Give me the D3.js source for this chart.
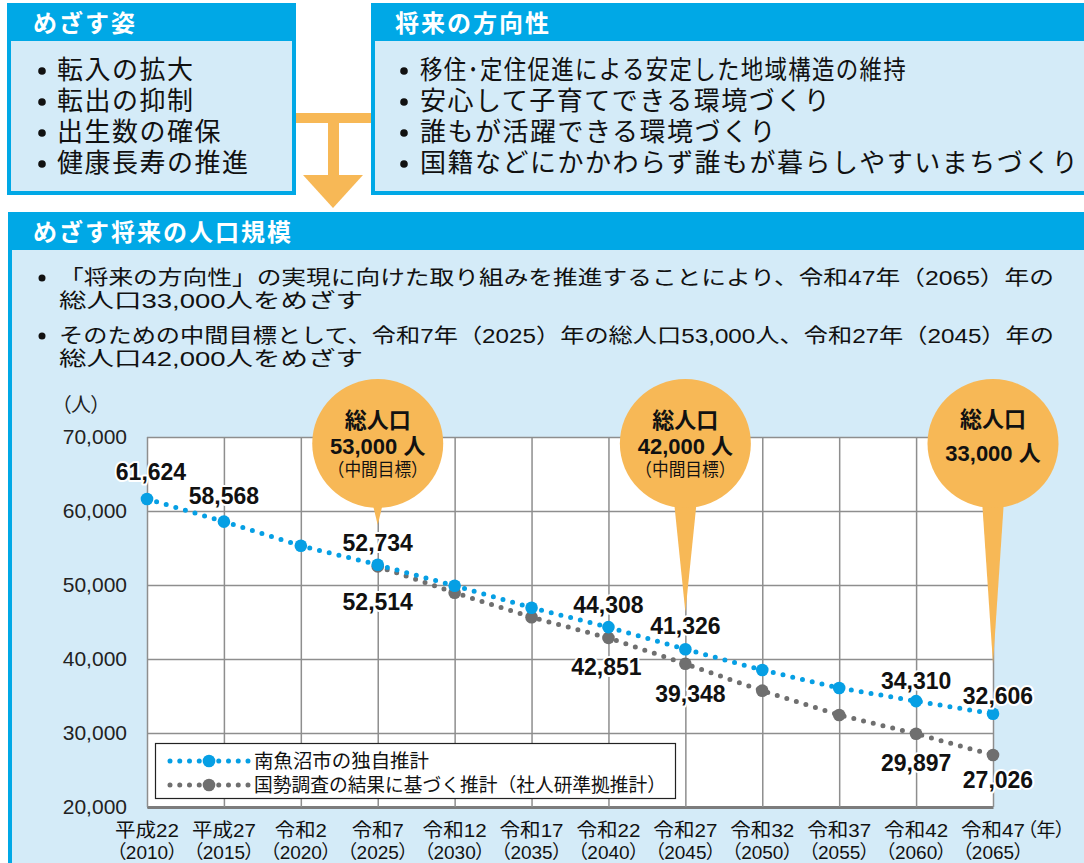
<!DOCTYPE html>
<html>
<head>
<meta charset="utf-8">
<script src="https://cdn.jsdelivr.net/npm/d3@7"></script>
<style>
  body { margin: 0; background: #fff; }
  svg { display: block; }
  text { font-family: "Liberation Sans", "Noto Sans CJK JP", sans-serif; }
</style>
</head>
<body>
<div id="chart"></div>
<script>
// ---- data ----
const years = [2010, 2015, 2020, 2025, 2030, 2035, 2040, 2045, 2050, 2055, 2060, 2065];
const eraLabels = ["平成22", "平成27", "令和2", "令和7", "令和12", "令和17", "令和22", "令和27", "令和32", "令和37", "令和42", "令和47"];
const ownEstimate = [61624, 58568, 55300, 52734, 49900, 46930, 44308, 41326, 38510, 36080, 34310, 32606];
const ipssEstimate = [null, null, null, 52514, 48960, 45640, 42851, 39348, 35720, 32430, 29897, 27026];
const yTicks = [20000, 30000, 40000, 50000, 60000, 70000];
const seriesNames = ["南魚沼市の独自推計", "国勢調査の結果に基づく推計（社人研準拠推計）"];
const ownLabelled = [2010, 2015, 2025, 2040, 2045, 2060, 2065];
const ipssLabelled = [2025, 2040, 2045, 2060, 2065];
const goalYears = [2025, 2045, 2065];
const goalValues = ["53,000", "42,000", "33,000"];
const goalNotes = ["（中間目標）", "（中間目標）", ""];
const aimItems = ["転入の拡大", "転出の抑制", "出生数の確保", "健康長寿の推進"];
const directionItems = [
  "移住･定住促進による安定した地域構造の維持",
  "安心して子育てできる環境づくり",
  "誰もが活躍できる環境づくり",
  "国籍などにかかわらず誰もが暮らしやすいまちづくり"
];
const targetLines = [
  "「将来の方向性」の実現に向けた取り組みを推進することにより、令和47年（2065）年の",
  "総人口33,000人をめざす",
  "そのための中間目標として、令和7年（2025）年の総人口53,000人、令和27年（2045）年の",
  "総人口42,000人をめざす"
];

const W = 1084, H = 863;
const BLUE = "#00a8e6", LIGHT = "#d4ebf8", ORANGE = "#f7b856";
const C_OWN = "#069fe4", C_IPSS = "#6f6f6f";

const svg = d3.select("#chart").append("svg")
  .attr("width", W).attr("height", H)
  .attr("viewBox", [0, 0, W, H]);

// panels with a blue title strip
function panel(x, y, w, h, title, titleX, titleY) {
  svg.append("rect")
    .attr("x", x + 2).attr("y", y + 2).attr("width", w - 4).attr("height", h - 4)
    .attr("fill", LIGHT).attr("stroke", BLUE).attr("stroke-width", 4);
  svg.append("rect")
    .attr("x", x).attr("y", y).attr("width", w).attr("height", 38)
    .attr("fill", BLUE);
  svg.append("text")
    .attr("x", titleX).attr("y", titleY)
    .attr("dominant-baseline", "central")
    .attr("fill", "#fff").attr("font-weight", 700)
    .attr("font-size", 24).attr("letter-spacing", 2)
    .text(title);
}

panel(7, 3, 289, 192, "めざす姿", 33, 23);
panel(371, 3, 730, 192, "将来の方向性", 395, 23);
panel(8, 212, 1090, 670, "めざす将来の人口規模", 33, 232);

// bullet lists in top panels
function bullets(items, bx, tx, y0, step, fitFirst) {
  const g = svg.append("g");
  items.forEach((t, i) => {
    const cy = y0 + i * step;
    g.append("circle").attr("cx", bx).attr("cy", cy + 1).attr("r", 3.8).attr("fill", "#111");
    const tt = g.append("text")
      .attr("x", tx).attr("y", cy)
      .attr("dominant-baseline", "central")
      .attr("font-size", 26).attr("letter-spacing", 1.5)
      .attr("fill", "#111")
      .text(t);
    if (fitFirst && i === 0) tt.attr("textLength", fitFirst).attr("lengthAdjust", "spacingAndGlyphs");
  });
}
bullets(aimItems, 42, 57, 70, 31);
bullets(directionItems, 404, 420, 70, 31, 487);

// arrow between the panels
svg.append("rect").attr("x", 296).attr("y", 113).attr("width", 75).attr("height", 10).attr("fill", ORANGE);
svg.append("rect").attr("x", 328).attr("y", 122).attr("width", 11).attr("height", 54).attr("fill", ORANGE);
svg.append("path").attr("d", "M303,175 L363,175 L333,208 Z").attr("fill", ORANGE);

// target text
const tg = svg.append("g");
const lineYs = [277, 300, 335, 358];
targetLines.forEach((t, i) => {
  if (i % 2 === 0) tg.append("circle").attr("cx", 42).attr("cy", lineYs[i] + 1).attr("r", 3.5).attr("fill", "#111");
  tg.append("text")
    .attr("x", 59).attr("y", lineYs[i])
    .attr("dominant-baseline", "central")
    .attr("font-size", 20.5).attr("fill", "#111")
    .attr("textLength", i % 2 === 0 ? 995 : 304)
    .attr("lengthAdjust", "spacingAndGlyphs")
    .text(t);
});

// ---- chart ----
const x = d3.scaleLinear().domain([2010, 2065]).range([147, 993]);
const y = d3.scaleLinear().domain([20000, 70000]).range([807, 437]);

svg.append("rect")
  .attr("x", x(2010)).attr("y", y(70000))
  .attr("width", x(2065) - x(2010)).attr("height", y(20000) - y(70000))
  .attr("fill", "#fff");

const gy = svg.append("g")
  .attr("transform", `translate(${x(2010)},0)`)
  .call(d3.axisLeft(y).tickValues(yTicks).tickSize(-(x(2065) - x(2010))).tickPadding(20).tickFormat(d3.format(",")));
gy.select(".domain").remove();
gy.selectAll(".tick line").attr("stroke", "#8e8e8e").attr("stroke-width", 1.5);
gy.selectAll(".tick text")
  .attr("font-family", "Liberation Sans, Arial, sans-serif")
  .attr("font-size", 21).attr("fill", "#222");

const gx = svg.append("g")
  .attr("transform", `translate(0,${y(20000)})`)
  .call(d3.axisBottom(x).tickValues(years).tickSize(-(y(20000) - y(70000))).tickSizeOuter(0).tickFormat(""));
gx.selectAll(".tick line").attr("stroke", "#8e8e8e").attr("stroke-width", 1.5);
gx.select(".domain").attr("stroke", "#7c7c7c").attr("stroke-width", 3);

// x tick labels (era + western year)
const xl = svg.append("g").attr("fill", "#111").attr("font-size", 19).attr("text-anchor", "middle");
years.forEach((yr, i) => {
  xl.append("text").attr("x", x(yr)).attr("y", 830).attr("dominant-baseline", "central")
    .attr("lengthAdjust", "spacingAndGlyphs")
    .attr("textLength", eraLabels[i].length > 3 ? 64 : 52)
    .text(eraLabels[i]);
  xl.append("text").attr("x", x(yr)).attr("y", 852).attr("dominant-baseline", "central")
    .style("font-feature-settings", "'palt'").text(`（${yr}）`);
});
xl.append("text").attr("x", 1027).attr("y", 830).attr("text-anchor", "start")
  .attr("dominant-baseline", "central").style("font-feature-settings", "'palt'").text("（年）");

svg.append("text")
  .attr("x", 61).attr("y", 405).attr("dominant-baseline", "central")
  .attr("font-size", 20).attr("fill", "#222")
  .style("font-feature-settings", "'palt'")
  .text("（人）");

// goal balloons
const bal = svg.append("g");
const tipY = [525, 612, 664];
const neck = [6, 11.5, 11];
goalYears.forEach((yr, i) => {
  const cx = x(yr);
  bal.append("path")
    .attr("d", `M${cx - neck[i]},500 L${cx + neck[i]},500 L${cx},${tipY[i]} Z`)
    .attr("fill", ORANGE);
  bal.append("ellipse")
    .attr("cx", cx).attr("cy", 443.5).attr("rx", 65.5).attr("ry", 64.5)
    .attr("fill", ORANGE);
  const hasNote = goalNotes[i] !== "";
  bal.append("text").attr("x", cx).attr("y", hasNote ? 420 : 419)
    .attr("text-anchor", "middle").attr("dominant-baseline", "central")
    .attr("font-weight", 700).attr("font-size", 22).attr("fill", "#111")
    .text("総人口");
  bal.append("text").attr("x", cx).attr("y", hasNote ? 446 : 453)
    .attr("text-anchor", "middle").attr("dominant-baseline", "central")
    .attr("font-weight", 700).attr("font-size", 22).attr("fill", "#111")
    .text(goalValues[i] + " 人");
  if (hasNote) {
    bal.append("text").attr("x", cx).attr("y", 470)
      .attr("text-anchor", "middle").attr("dominant-baseline", "central")
      .attr("font-size", 18).attr("fill", "#111")
      .attr("textLength", 100).attr("lengthAdjust", "spacingAndGlyphs")
      .text(goalNotes[i]);
  }
});

// series
const ownData = years.map((yr, i) => [yr, ownEstimate[i]]);
const ipssData = years.map((yr, i) => [yr, ipssEstimate[i]]).filter(d => d[1] != null);
const line = d3.line().x(d => x(d[0])).y(d => y(d[1]));

function drawSeries(data, color) {
  const g = svg.append("g");
  g.append("path")
    .attr("d", line(data))
    .attr("fill", "none").attr("stroke", color)
    .attr("stroke-width", 5).attr("stroke-linecap", "round")
    .attr("stroke-dasharray", "0 10");
  g.selectAll("circle").data(data).join("circle")
    .attr("cx", d => x(d[0])).attr("cy", d => y(d[1]))
    .attr("r", 6.3).attr("fill", color);
}
drawSeries(ipssData, C_IPSS);
drawSeries(ownData, C_OWN);

// value labels
const ownOffset = { 2010: [4, -27], 2015: [0, -26], 2025: [0, -22], 2040: [0, -22], 2045: [0, -23], 2060: [0, -20], 2065: [5, -18] };
const ipssOffset = { 2025: [0, 36], 2040: [-2, 29], 2045: [5, 30], 2060: [0, 29], 2065: [5, 25] };
const lab = svg.append("g")
  .attr("font-family", "Liberation Sans, Arial, sans-serif")
  .attr("font-weight", 700).attr("font-size", 23)
  .attr("text-anchor", "middle");
function labels(list, values, offsets) {
  list.forEach(yr => {
    const v = values[years.indexOf(yr)];
    const o = offsets[yr];
    lab.append("text")
      .attr("x", x(yr) + o[0]).attr("y", y(v) + o[1])
      .attr("dominant-baseline", "central")
      .attr("fill", "#111").attr("stroke", "#fff").attr("stroke-width", 4)
      .attr("stroke-linejoin", "round").attr("paint-order", "stroke")
      .text(d3.format(",")(v));
  });
}
labels(ownLabelled, ownEstimate, ownOffset);
labels(ipssLabelled, ipssEstimate, ipssOffset);

// legend
const lg = svg.append("g");
lg.append("rect").attr("x", 155.5).attr("y", 743.5).attr("width", 520).attr("height", 55)
  .attr("fill", "#fff").attr("stroke", "#222").attr("stroke-width", 1.2);
[C_OWN, C_IPSS].forEach((c, i) => {
  const ly = 761 + i * 24;
  lg.append("line").attr("x1", 170).attr("x2", 249).attr("y1", ly).attr("y2", ly)
    .attr("stroke", c).attr("stroke-width", 5).attr("stroke-linecap", "round")
    .attr("stroke-dasharray", "0 9.75");
  lg.append("circle").attr("cx", 209).attr("cy", ly).attr("r", 6.3).attr("fill", c);
  lg.append("text").attr("x", 254).attr("y", ly).attr("dominant-baseline", "central")
    .attr("font-size", 19).attr("fill", "#111")
    .attr("textLength", i === 0 ? 175 : 412).attr("lengthAdjust", "spacingAndGlyphs")
    .text(seriesNames[i]);
});
</script>
</body>
</html>
